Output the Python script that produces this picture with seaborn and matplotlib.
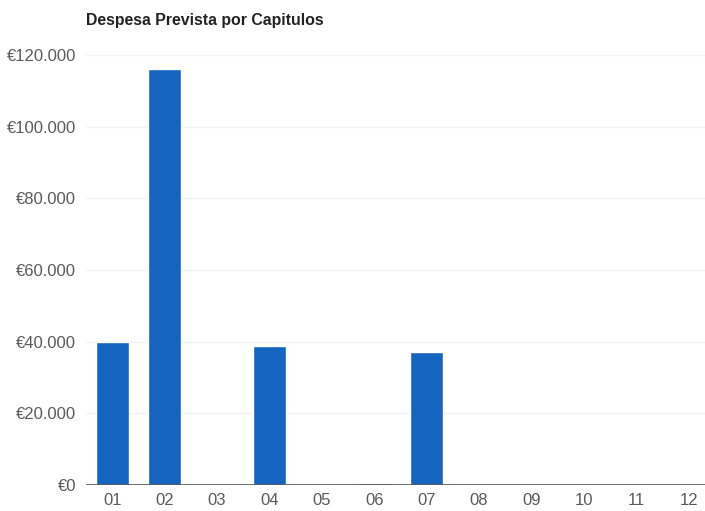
import matplotlib
matplotlib.use('Agg')
import pandas as pd
import seaborn as sns
import matplotlib.pyplot as plt
from matplotlib.ticker import FuncFormatter

capitulos = ['01', '02', '03', '04', '05', '06', '07', '08', '09', '10', '11', '12']
despesa = [39800, 116100, 0, 38900, 0, 600, 37000, 0, 0, 0, 0, 0]
y_ticks = [0, 20000, 40000, 60000, 80000, 100000, 120000]

df = pd.DataFrame({'capitulo': capitulos, 'despesa': despesa})

sns.set_theme(style='white')
plt.rcParams['font.family'] = ['Liberation Sans', 'DejaVu Sans']

fig = plt.figure(figsize=(7.05, 5.11), dpi=100)
ax = fig.add_axes([86 / 705, 26 / 511, 619 / 705, 430 / 511])

sns.barplot(data=df, x='capitulo', y='despesa', color='#1565c0', width=0.63,
            saturation=1, ax=ax, zorder=3)

ax.set_xlim(-0.5, 11.31)
ax.set_ylim(0, 120000)
ax.set_yticks(y_ticks)
ax.yaxis.set_major_formatter(FuncFormatter(lambda v, p: '€' + f'{int(v):,}'.replace(',', '.')))
ax.grid(axis='y', color='#f2f2f2', linewidth=1, zorder=0)
ax.axhline(0, color='#555555', linewidth=1.2, zorder=4)
for s in ax.spines.values():
    s.set_visible(False)
ax.tick_params(axis='both', length=0, labelsize=12, labelcolor='#5a5a5a')
ax.tick_params(axis='y', pad=7)
ax.tick_params(axis='x', pad=6)
ax.set_xlabel('')
ax.set_ylabel('')
fig.text(86 / 705, 1 - 20 / 511, 'Despesa Prevista por Capitulos', fontsize=11.4,
         fontweight='bold', color='#222222', va='center', ha='left')

fig.savefig('out.png', dpi=100)
